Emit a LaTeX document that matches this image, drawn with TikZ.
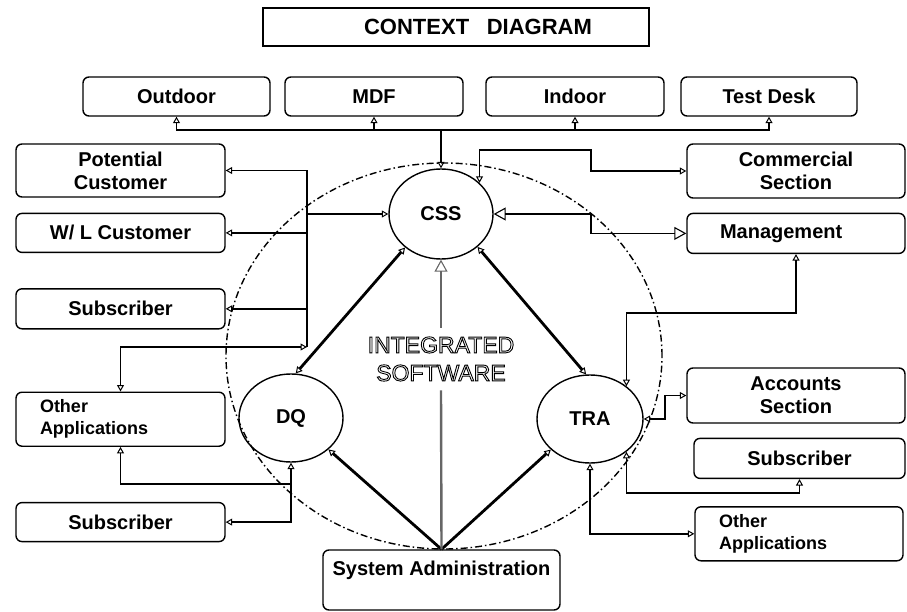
\documentclass[tikz,border=0pt]{standalone}
\usepackage{fontspec}
\setmainfont{Liberation Sans}
\usetikzlibrary{arrows.meta, shapes.geometric, positioning}

% hollow lettering
\newcommand\hollowtext[1]{\special{pdf:literal direct 1 Tr 0.9 w}#1\special{pdf:literal direct 0 Tr}}

\begin{document}
\begin{tikzpicture}[
    x=1pt, y=-1pt,
    otri/.tip={Triangle[open, length=6.5pt, width=7pt, line width=1pt]},
    bigtri/.tip={Triangle[open, length=12pt, width=13pt, line width=1.1pt]},
    boxnode/.style={draw, rectangle, rounded corners=6pt, line width=1.4pt, align=center, inner sep=3pt, font=\fontsize{20}{23}\selectfont\bfseries},
    sidebox/.style={boxnode, text width=161pt, inner xsep=24pt, align=left, minimum height=54pt, font=\fontsize{18}{22}\selectfont\bfseries},
    titlebox/.style={draw, rectangle, line width=1.3pt, minimum width=386pt, minimum height=38pt, font=\fontsize{22}{26}\selectfont\bfseries},
    procnode/.style={draw, ellipse, line width=1.4pt, inner sep=0pt, font=\fontsize{20}{23}\selectfont\bfseries},
    wire/.style={line width=1.7pt},
    flow/.style={-otri, line width=1.7pt},
    dflow/.style={otri-otri, line width=1.7pt},
    bigflow/.style={bigtri-bigtri, line width=1.7pt},
    heavy/.style={otri-otri, line width=2.8pt},
    heavyone/.style={-otri, line width=2.8pt},
    spine/.style={line width=2.4pt, draw=black!60},
    boundary/.style={line width=1.4pt, dash pattern=on 7pt off 3pt on 1.5pt off 3pt}
]
\useasboundingbox (0,0) rectangle (907,612);

% Title
\node (title) [titlebox] at (456,27) {\hspace*{44pt}CONTEXT\hspace{0.8em}DIAGRAM};

% Top row of external entities
\node (outdoor) [boxnode, minimum width=187pt, minimum height=39pt] at (176.5,96.5) {Outdoor};
\node (mdf) [boxnode, minimum width=178pt, minimum height=39pt] at (374,96.5) {MDF};
\node (indoor) [boxnode, minimum width=178pt, minimum height=39pt] at (575,96.5) {Indoor};
\node (testdesk) [boxnode, minimum width=176pt, minimum height=39pt] at (769,96.5) {Test Desk};

% Left column
\node (potcust) [boxnode, minimum width=209pt, minimum height=53pt] at (120.5,170.5) {Potential\\Customer};
\node (wlcust) [boxnode, minimum width=209pt, minimum height=39pt, below=15pt of potcust] {W/ L Customer};
\node (subs1) [boxnode, minimum width=209pt, minimum height=40pt, below=35pt of wlcust] {Subscriber};
\node (otherl) [sidebox, below=62pt of subs1] {Other\\Applications};
\node (subs2) [boxnode, minimum width=209pt, minimum height=39pt, below=55pt of otherl] {Subscriber};

% Right column
\node (commercial) [boxnode, minimum width=218pt, minimum height=54pt] at (796,171) {Commercial\\Section};
\node (management) [boxnode, text width=152pt, inner xsep=33pt, align=left, minimum height=40pt, below=14pt of commercial] {Management};
\node (accounts) [boxnode, minimum width=218pt, minimum height=55pt] at (796,395.5) {Accounts\\Section};
\node (subsr) [boxnode, minimum width=211pt, minimum height=40pt, below=14pt of accounts, xshift=3.5pt] {Subscriber};
\node (otherr) [sidebox, text width=160pt, below=27pt of subsr, xshift=-0.5pt] {Other\\Applications};

% System boundary and processes
\draw[boundary] (444,356) ellipse [x radius=218pt, y radius=193pt];
\node (css) [procnode, minimum width=104pt, minimum height=90pt] at (441,214) {CSS};
\node (dq) [procnode, minimum width=104pt, minimum height=88pt] at (291,418) {DQ};
\node (tra) [procnode, minimum width=106pt, minimum height=88pt] at (590,419) {TRA};
\node (intsw) [align=center, inner ysep=9pt, font=\fontsize{23}{28}\selectfont] at (441,359) {\hollowtext{INTEGRATED}\\\hollowtext{SOFTWARE}};
\node (sysadmin) [boxnode, minimum width=237pt, minimum height=60pt] at (441.5,580) {System Administration\\\mbox{}};

% Top bus
\coordinate (topbus) at (441,130);
\draw[flow] (topbus) -- (css.north);
\foreach \b in {outdoor, mdf, indoor, testdesk}
    \draw[flow] (topbus) -| (\b.south);

% CSS to the right
\draw[dflow] (css.39) |- (591,150) |- (commercial.west);
\draw[bigflow] (css.east) -- (591,214) |- (management.west);

% Left bus
\coordinate (leftbus) at (307,214);
\coordinate (leftfoot) at (307,347);
\draw[flow] (leftbus) -- (css.west);
\foreach \b in {potcust, wlcust, subs1}
    \draw[flow] (leftbus) |- (\b.east);
\draw[wire] (leftbus) -- (leftfoot);
\draw[dflow] (leftfoot) -| (otherl.north);

% Process links
\draw[heavy] (css.223) -- (dq.84);
\draw[heavy] (css.-42) -- (tra.95);
\draw[heavyone] (sysadmin.north) -- (dq.-40);
\draw[heavyone] (sysadmin.north) -- (tra.218);
\draw[spine] (sysadmin.north) -- (intsw.south);
\draw[spine, -bigtri] (intsw.north) -- (css.south);

% DQ links
\coordinate (dqjoin) at (291,484);
\draw[flow] (dqjoin) -- (dq.south);
\draw[flow] (dqjoin) -| (otherl.south);
\draw[flow] (dqjoin) |- (subs2.east);

% TRA links
\draw[dflow] (tra.east) -- (665,419) |- (accounts.west);
\draw[dflow] (tra.42) -- ++(0,-73) -| (management.south);
\draw[dflow] (tra.-42) -- ++(0,41) -| (subsr.south);
\draw[dflow] (tra.south) |- (otherr.west);

\end{tikzpicture}
\end{document}
